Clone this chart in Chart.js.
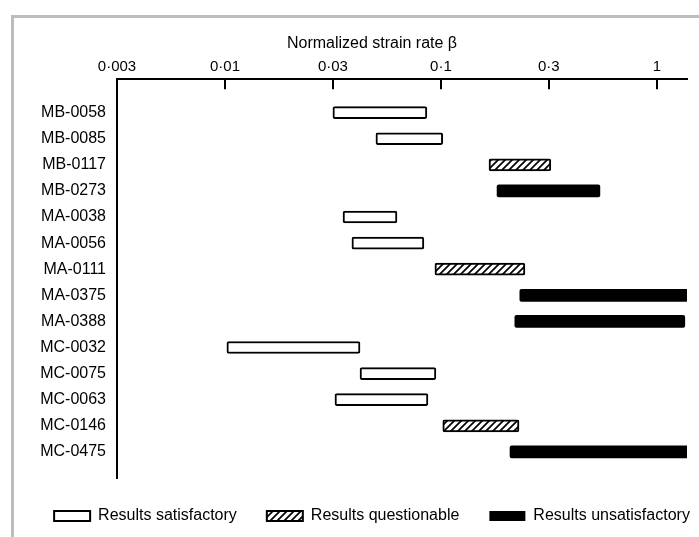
<!DOCTYPE html>
<html>
<head>
<meta charset="utf-8">
<script src="https://cdn.jsdelivr.net/npm/chart.js@4/dist/chart.umd.min.js"></script>
<style>
  html, body { margin: 0; padding: 0; background: #fff; overflow: hidden; width: 699px; height: 537px; }
  #frame { position: absolute; left: 11px; top: 15px; width: 900px; height: 700px;
           border-left: 3px solid #bdbdbd; border-top: 3px solid #bdbdbd; }
  #strain { position: absolute; left: 0; top: 0; }
</style>
</head>
<body>
<div id="frame"></div>
<canvas id="strain" width="744" height="537"></canvas>
<script>
// specimens, top to bottom
const samples = ["MB-0058", "MB-0085", "MB-0117", "MB-0273", "MA-0038", "MA-0056", "MA-0111",
                 "MA-0375", "MA-0388", "MC-0032", "MC-0075", "MC-0063", "MC-0146", "MC-0475"];
// range of normalized strain rate beta for each specimen
const betaLow  = [0.0316, 0.050, 0.167, 0.182, 0.0352, 0.0387, 0.0938,
                  0.232, 0.220, 0.0102, 0.0422, 0.0323, 0.102, 0.209];
const betaHigh = [0.0861, 0.102, 0.323, 0.545, 0.0626, 0.0834, 0.245,
                  1.40, 1.348, 0.0422, 0.0948, 0.0871, 0.230, 1.40];
// 0 = satisfactory, 1 = questionable, 2 = unsatisfactory
const outcome  = [0, 0, 1, 2, 0, 0, 1, 2, 2, 0, 0, 0, 1, 2];
const outcomeNames = ["Results satisfactory", "Results questionable", "Results unsatisfactory"];

// axis ticks sit on half decades, labelled with rounded values
const tickValues = [0.00316, 0.01, 0.0316, 0.1, 0.316, 1];
const tickLabels = ["0·003", "0·01", "0·03", "0·1", "0·3", "1"];
const xMin = 0.00316, xMax = 1.38;

const FONT = "'Liberation Sans', Arial, Helvetica, sans-serif";

function hatch() {
  const c = document.createElement("canvas");
  c.width = 7; c.height = 7;
  const g = c.getContext("2d");
  g.fillStyle = "#fff";
  g.fillRect(0, 0, 7, 7);
  g.strokeStyle = "#000";
  g.lineWidth = 1.7;
  g.beginPath();
  g.moveTo(-1, 8); g.lineTo(8, -1);
  g.moveTo(-4, 4); g.lineTo(4, -4);
  g.moveTo(3, 11); g.lineTo(11, 3);
  g.stroke();
  return g.createPattern(c, "repeat");
}

const fills = ["#fff", hatch(), "#000"];

const datasets = outcomeNames.map((name, k) => ({
  label: name,
  data: samples.map((s, i) => ({ y: i, x: [betaLow[i], betaHigh[i]] })).filter((d, i) => outcome[i] === k),
  backgroundColor: fills[k],
  borderColor: "#000",
  borderWidth: k === 2 ? 0 : 2,
  borderSkipped: false,
  borderRadius: 2,
  barThickness: 12,
  grouped: false
}));

// small tick marks hanging into the plot from the top axis
const innerTicks = {
  id: "innerTicks",
  afterDraw(chart) {
    const { ctx, chartArea, scales: { x } } = chart;
    ctx.save();
    ctx.strokeStyle = "#000";
    ctx.lineWidth = 2;
    x.ticks.forEach((t, i) => {
      if (i === 0) return;
      const px = Math.round(x.getPixelForValue(t.value));
      ctx.beginPath();
      ctx.moveTo(px, chartArea.top);
      ctx.lineTo(px, chartArea.top + 10);
      ctx.stroke();
    });
    ctx.restore();
  }
};

new Chart(document.getElementById("strain"), {
  type: "bar",
  data: { datasets },
  options: {
    indexAxis: "y",
    responsive: false,
    animation: false,
    layout: { padding: { left: 0, right: 0, top: 0, bottom: 3 } },
    scales: {
      x: {
        type: "logarithmic",
        position: "top",
        min: xMin,
        max: xMax,
        afterBuildTicks(s) { s.ticks = tickValues.map(v => ({ value: v })); },
        afterFit(s) { s.height = 26; },
        grid: { display: false, drawTicks: false },
        border: { display: true, color: "#000", width: 2 },
        ticks: {
          autoSkip: false,
          maxRotation: 0,
          padding: 3,
          color: "#000",
          font: { family: FONT, size: 15 },
          callback: (v, i) => tickLabels[i]
        }
      },
      y: {
        type: "linear",
        reverse: true,
        offset: false,
        min: -1.28,
        max: 14.0,
        afterBuildTicks(s) { s.ticks = samples.map((n, i) => ({ value: i })); },
        afterFit(s) { s.width = 117; },
        grid: { display: false, drawTicks: false, offset: false },
        border: { display: true, color: "#000", width: 2 },
        ticks: {
          autoSkip: false,
          padding: 11,
          color: "#000",
          font: { family: FONT, size: 16 },
          callback: v => samples[v]
        }
      },
      pad: {
        type: "linear",
        position: "right",
        grid: { display: false },
        border: { display: false },
        ticks: { display: false },
        afterFit(s) { s.width = 57; }
      }
    },
    plugins: {
      title: {
        display: true,
        text: "Normalized strain rate β",
        color: "#000",
        font: { family: FONT, size: 16, weight: "normal" },
        padding: { top: 34, bottom: 0 }
      },
      legend: {
        position: "bottom",
        labels: {
          color: "#000",
          font: { family: FONT, size: 16 },
          boxWidth: 36,
          boxHeight: 10,
          padding: 30
        }
      },
      tooltip: { enabled: false }
    }
  },
  plugins: [innerTicks]
});
</script>
</body>
</html>
